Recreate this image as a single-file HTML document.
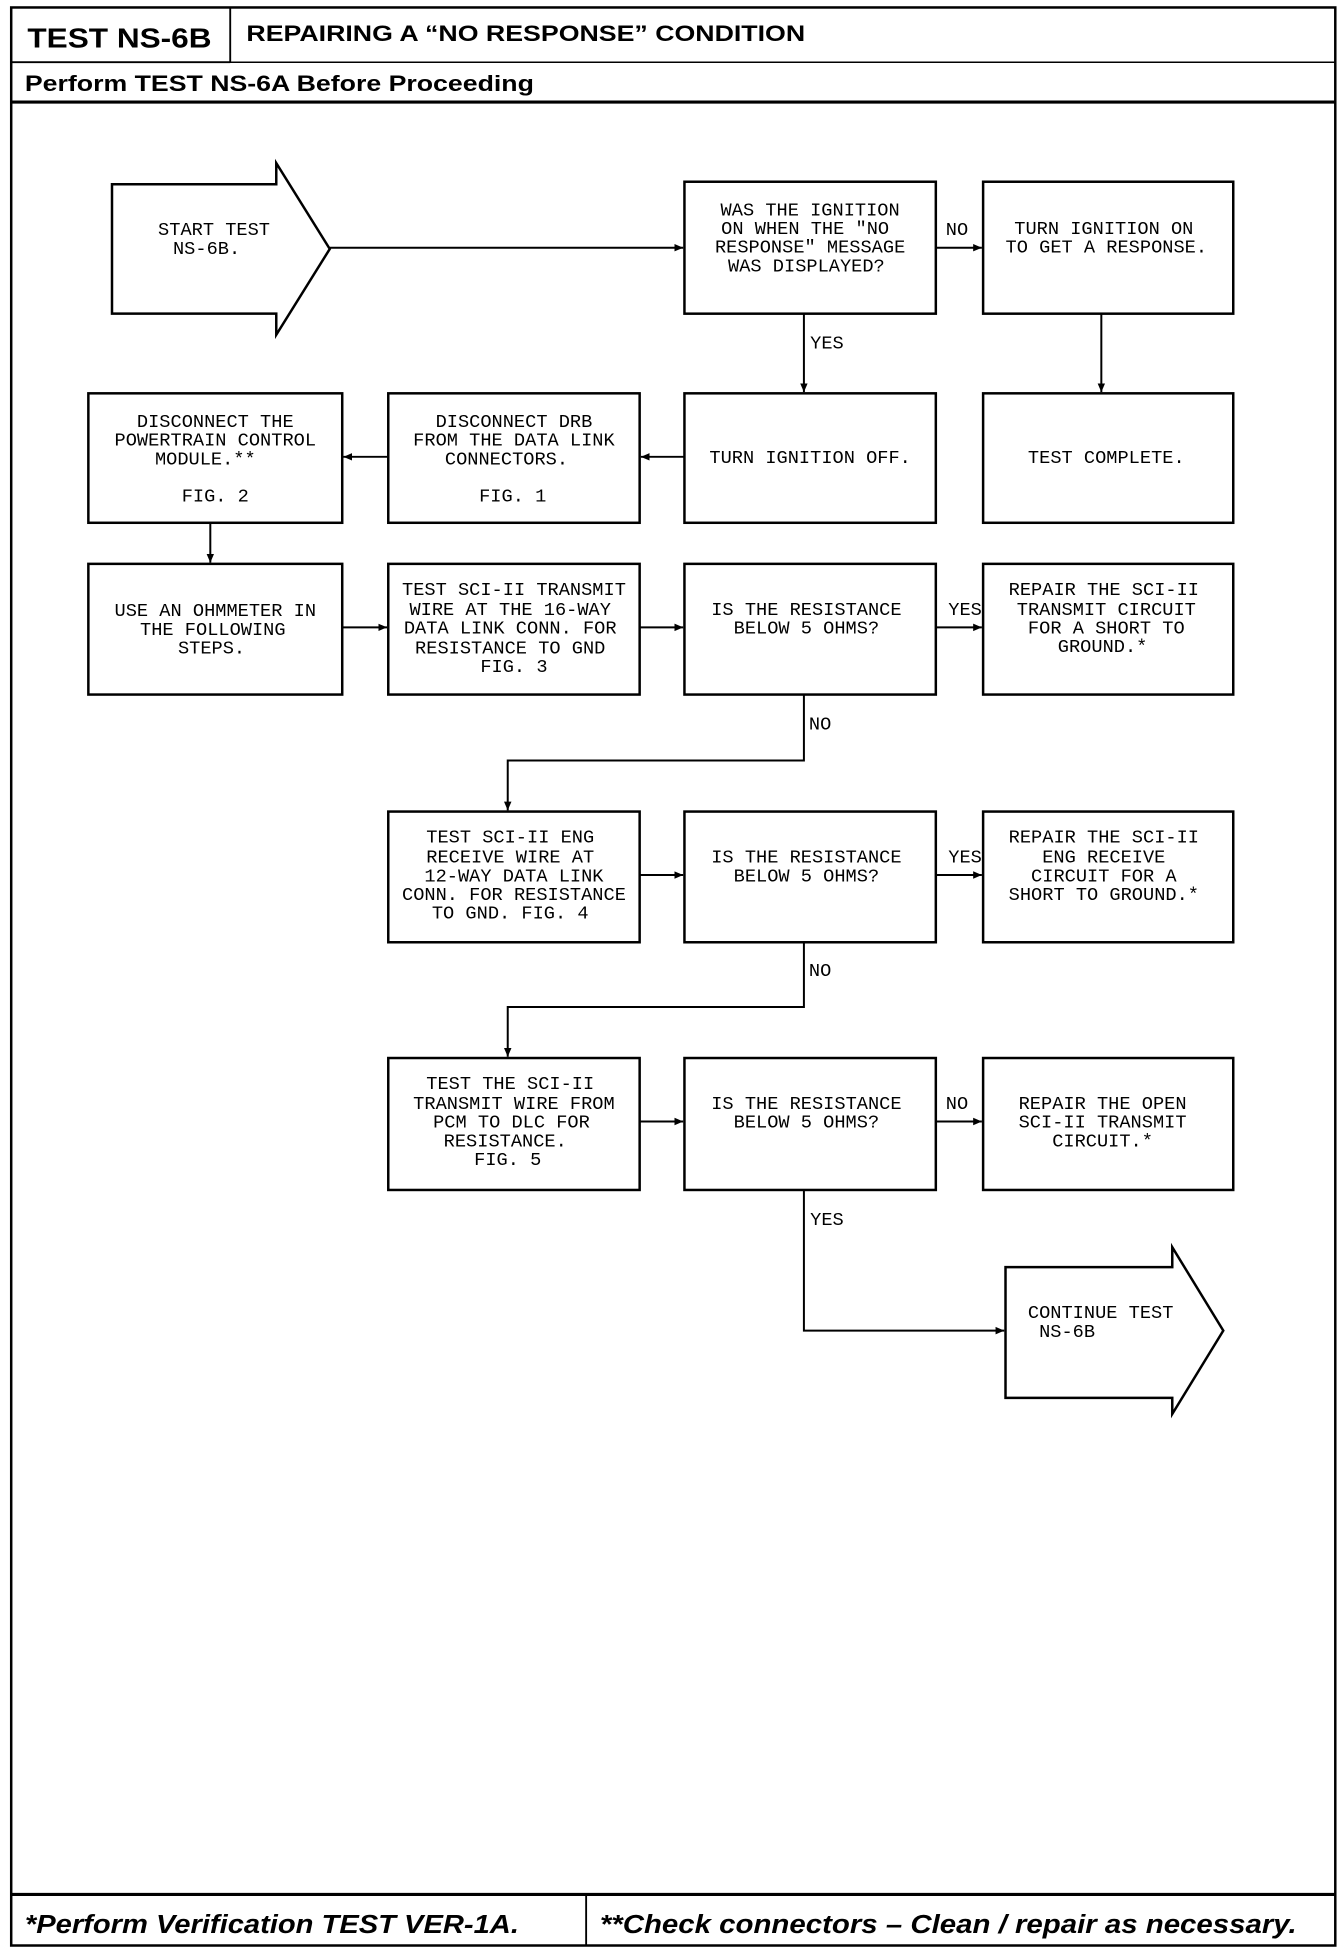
<!DOCTYPE html>
<html><head><meta charset="utf-8"><style>
html,body{margin:0;padding:0;background:#fff;}
svg{display:block;}
.b{fill:none;stroke:#000;stroke-width:2;}
.t{font-family:"Liberation Mono",monospace;font-size:15px;fill:#000;text-anchor:middle;}
.l{font-family:"Liberation Mono",monospace;font-size:15px;fill:#000;}
.c{stroke:#000;stroke-width:1.6;fill:none;}
.h{font-family:"Liberation Sans",sans-serif;font-weight:bold;fill:#000;}
</style></head><body>
<svg width="1344" height="1948" viewBox="0 0 1080 1565" preserveAspectRatio="none" xmlns="http://www.w3.org/2000/svg">
<defs><marker id="a" markerWidth="8" markerHeight="8" refX="7" refY="4" orient="auto" markerUnits="userSpaceOnUse"><path d="M0,1 L7,4 L0,7 Z" fill="#000"/></marker></defs>
<rect x="0" y="0" width="1080" height="1565" fill="#fff"/>
<!-- frame -->
<rect x="9" y="6" width="1064" height="1557" class="b"/>
<line x1="9" y1="50" x2="185" y2="50" stroke="#000" stroke-width="1.5"/>
<line x1="185" y1="6" x2="185" y2="50" stroke="#000" stroke-width="1.5"/>
<line x1="9" y1="50" x2="1073" y2="50" stroke="#000" stroke-width="1.2"/>
<line x1="9" y1="82" x2="1073" y2="82" stroke="#000" stroke-width="2.5"/>
<line x1="9" y1="1522" x2="1073" y2="1522" stroke="#000" stroke-width="2.5"/>
<line x1="471" y1="1522" x2="471" y2="1563" stroke="#000" stroke-width="1.5"/>
<text class="h" x="22" y="38" font-size="22" textLength="148" lengthAdjust="spacingAndGlyphs">TEST NS-6B</text>
<text class="h" x="198" y="33" font-size="18" textLength="449" lengthAdjust="spacingAndGlyphs">REPAIRING A “NO RESPONSE” CONDITION</text>
<text class="h" x="20" y="73" font-size="18" textLength="409" lengthAdjust="spacingAndGlyphs">Perform TEST NS-6A Before Proceeding</text>
<text class="h" x="20" y="1553" font-size="21" font-style="italic" textLength="397" lengthAdjust="spacingAndGlyphs">*Perform Verification TEST VER-1A.</text>
<text class="h" x="482" y="1553" font-size="21" font-style="italic" textLength="560" lengthAdjust="spacingAndGlyphs">**Check connectors – Clean / repair as necessary.</text>

<!-- start arrow -->
<path d="M90,148 L222,148 L222,131 L265,200 L222,269 L222,252 L90,252 Z" class="b"/>
<text class="t" x="172" y="189">START TEST</text>
<text class="t" x="166" y="204">NS-6B.</text>
<!-- continue arrow -->
<path d="M808,1018 L942,1018 L942,1002 L983,1069 L942,1136 L942,1123 L808,1123 Z" class="b"/>
<text class="l" x="826" y="1059">CONTINUE TEST</text>
<text class="l" x="835" y="1074">NS-6B</text>

<!-- boxes -->
<rect x="550" y="146" width="202" height="106" class="b"/>
<rect x="790" y="146" width="201" height="106" class="b"/>
<rect x="71" y="316" width="204" height="104" class="b"/>
<rect x="312" y="316" width="202" height="104" class="b"/>
<rect x="550" y="316" width="202" height="104" class="b"/>
<rect x="790" y="316" width="201" height="104" class="b"/>
<rect x="71" y="453" width="204" height="105" class="b"/>
<rect x="312" y="453" width="202" height="105" class="b"/>
<rect x="550" y="453" width="202" height="105" class="b"/>
<rect x="790" y="453" width="201" height="105" class="b"/>
<rect x="312" y="652" width="202" height="105" class="b"/>
<rect x="550" y="652" width="202" height="105" class="b"/>
<rect x="790" y="652" width="201" height="105" class="b"/>
<rect x="312" y="850" width="202" height="106" class="b"/>
<rect x="550" y="850" width="202" height="106" class="b"/>
<rect x="790" y="850" width="201" height="106" class="b"/>

<!-- box texts -->
<g class="t">
<text x="651" y="173">WAS THE IGNITION</text>
<text x="647" y="188">ON WHEN THE "NO</text>
<text x="651" y="203">RESPONSE" MESSAGE</text>
<text x="648" y="218">WAS DISPLAYED?</text>
<text x="887" y="188">TURN IGNITION ON</text>
<text x="889" y="203">TO GET A RESPONSE.</text>

<text x="173" y="343">DISCONNECT THE</text>
<text x="173" y="358">POWERTRAIN CONTROL</text>
<text x="165" y="373">MODULE.**</text>
<text x="173" y="403">FIG. 2</text>
<text x="413" y="343">DISCONNECT DRB</text>
<text x="413" y="358">FROM THE DATA LINK</text>
<text x="407" y="373">CONNECTORS.</text>
<text x="412" y="403">FIG. 1</text>
<text x="651" y="372">TURN IGNITION OFF.</text>
<text x="889" y="372">TEST COMPLETE.</text>

<text x="173" y="495">USE AN OHMMETER IN</text>
<text x="171" y="510">THE FOLLOWING</text>
<text x="170" y="525">STEPS.</text>
<text x="413" y="478">TEST SCI-II TRANSMIT</text>
<text x="410" y="494">WIRE AT THE 16-WAY</text>
<text x="410" y="509">DATA LINK CONN. FOR</text>
<text x="410" y="525">RESISTANCE TO GND</text>
<text x="413" y="540">FIG. 3</text>
<text x="648" y="494">IS THE RESISTANCE</text>
<text x="648" y="509">BELOW 5 OHMS?</text>
<text x="887" y="478">REPAIR THE SCI-II</text>
<text x="889" y="494">TRANSMIT CIRCUIT</text>
<text x="889" y="509">FOR A SHORT TO</text>
<text x="886" y="524">GROUND.*</text>

<text x="410" y="677">TEST SCI-II ENG</text>
<text x="410" y="693">RECEIVE WIRE AT</text>
<text x="413" y="708">12-WAY DATA LINK</text>
<text x="413" y="723">CONN. FOR RESISTANCE</text>
<text x="410" y="738">TO GND.    FIG. 4</text>
<text x="648" y="693">IS THE RESISTANCE</text>
<text x="648" y="708">BELOW 5 OHMS?</text>
<text x="887" y="677">REPAIR THE SCI-II</text>
<text x="887" y="693">ENG RECEIVE</text>
<text x="887" y="708">CIRCUIT FOR A</text>
<text x="887" y="723">SHORT TO GROUND.*</text>

<text x="410" y="875">TEST THE SCI-II</text>
<text x="413" y="891">TRANSMIT WIRE FROM</text>
<text x="411" y="906">PCM TO DLC FOR</text>
<text x="406" y="921">RESISTANCE.</text>
<text x="408" y="936">FIG. 5</text>
<text x="648" y="891">IS THE RESISTANCE</text>
<text x="648" y="906">BELOW 5 OHMS?</text>
<text x="886" y="891">REPAIR THE OPEN</text>
<text x="886" y="906">SCI-II TRANSMIT</text>
<text x="886" y="921">CIRCUIT.*</text>
</g>

<!-- labels -->
<g class="l">
<text x="760" y="189">NO</text>
<text x="651" y="280">YES</text>
<text x="762" y="494">YES</text>
<text x="650" y="586">NO</text>
<text x="762" y="693">YES</text>
<text x="650" y="784">NO</text>
<text x="760" y="891">NO</text>
<text x="651" y="984">YES</text>
</g>

<!-- connectors -->
<g class="c" marker-end="url(#a)">
<path d="M265,199 L549,199"/>
<path d="M752,199 L789,199"/>
<path d="M646,252 L646,315"/>
<path d="M885,252 L885,315"/>
<path d="M550,367 L515,367"/>
<path d="M312,367 L276,367"/>
<path d="M169,420 L169,452"/>
<path d="M275,504 L311,504"/>
<path d="M514,504 L549,504"/>
<path d="M752,504 L789,504"/>
<path d="M646,558 L646,611 L408,611 L408,651"/>
<path d="M514,703 L549,703"/>
<path d="M752,703 L789,703"/>
<path d="M646,757 L646,809 L408,809 L408,849"/>
<path d="M514,901 L549,901"/>
<path d="M752,901 L789,901"/>
<path d="M646,956 L646,1069 L807,1069"/>
</g>
</svg>
</body></html>
